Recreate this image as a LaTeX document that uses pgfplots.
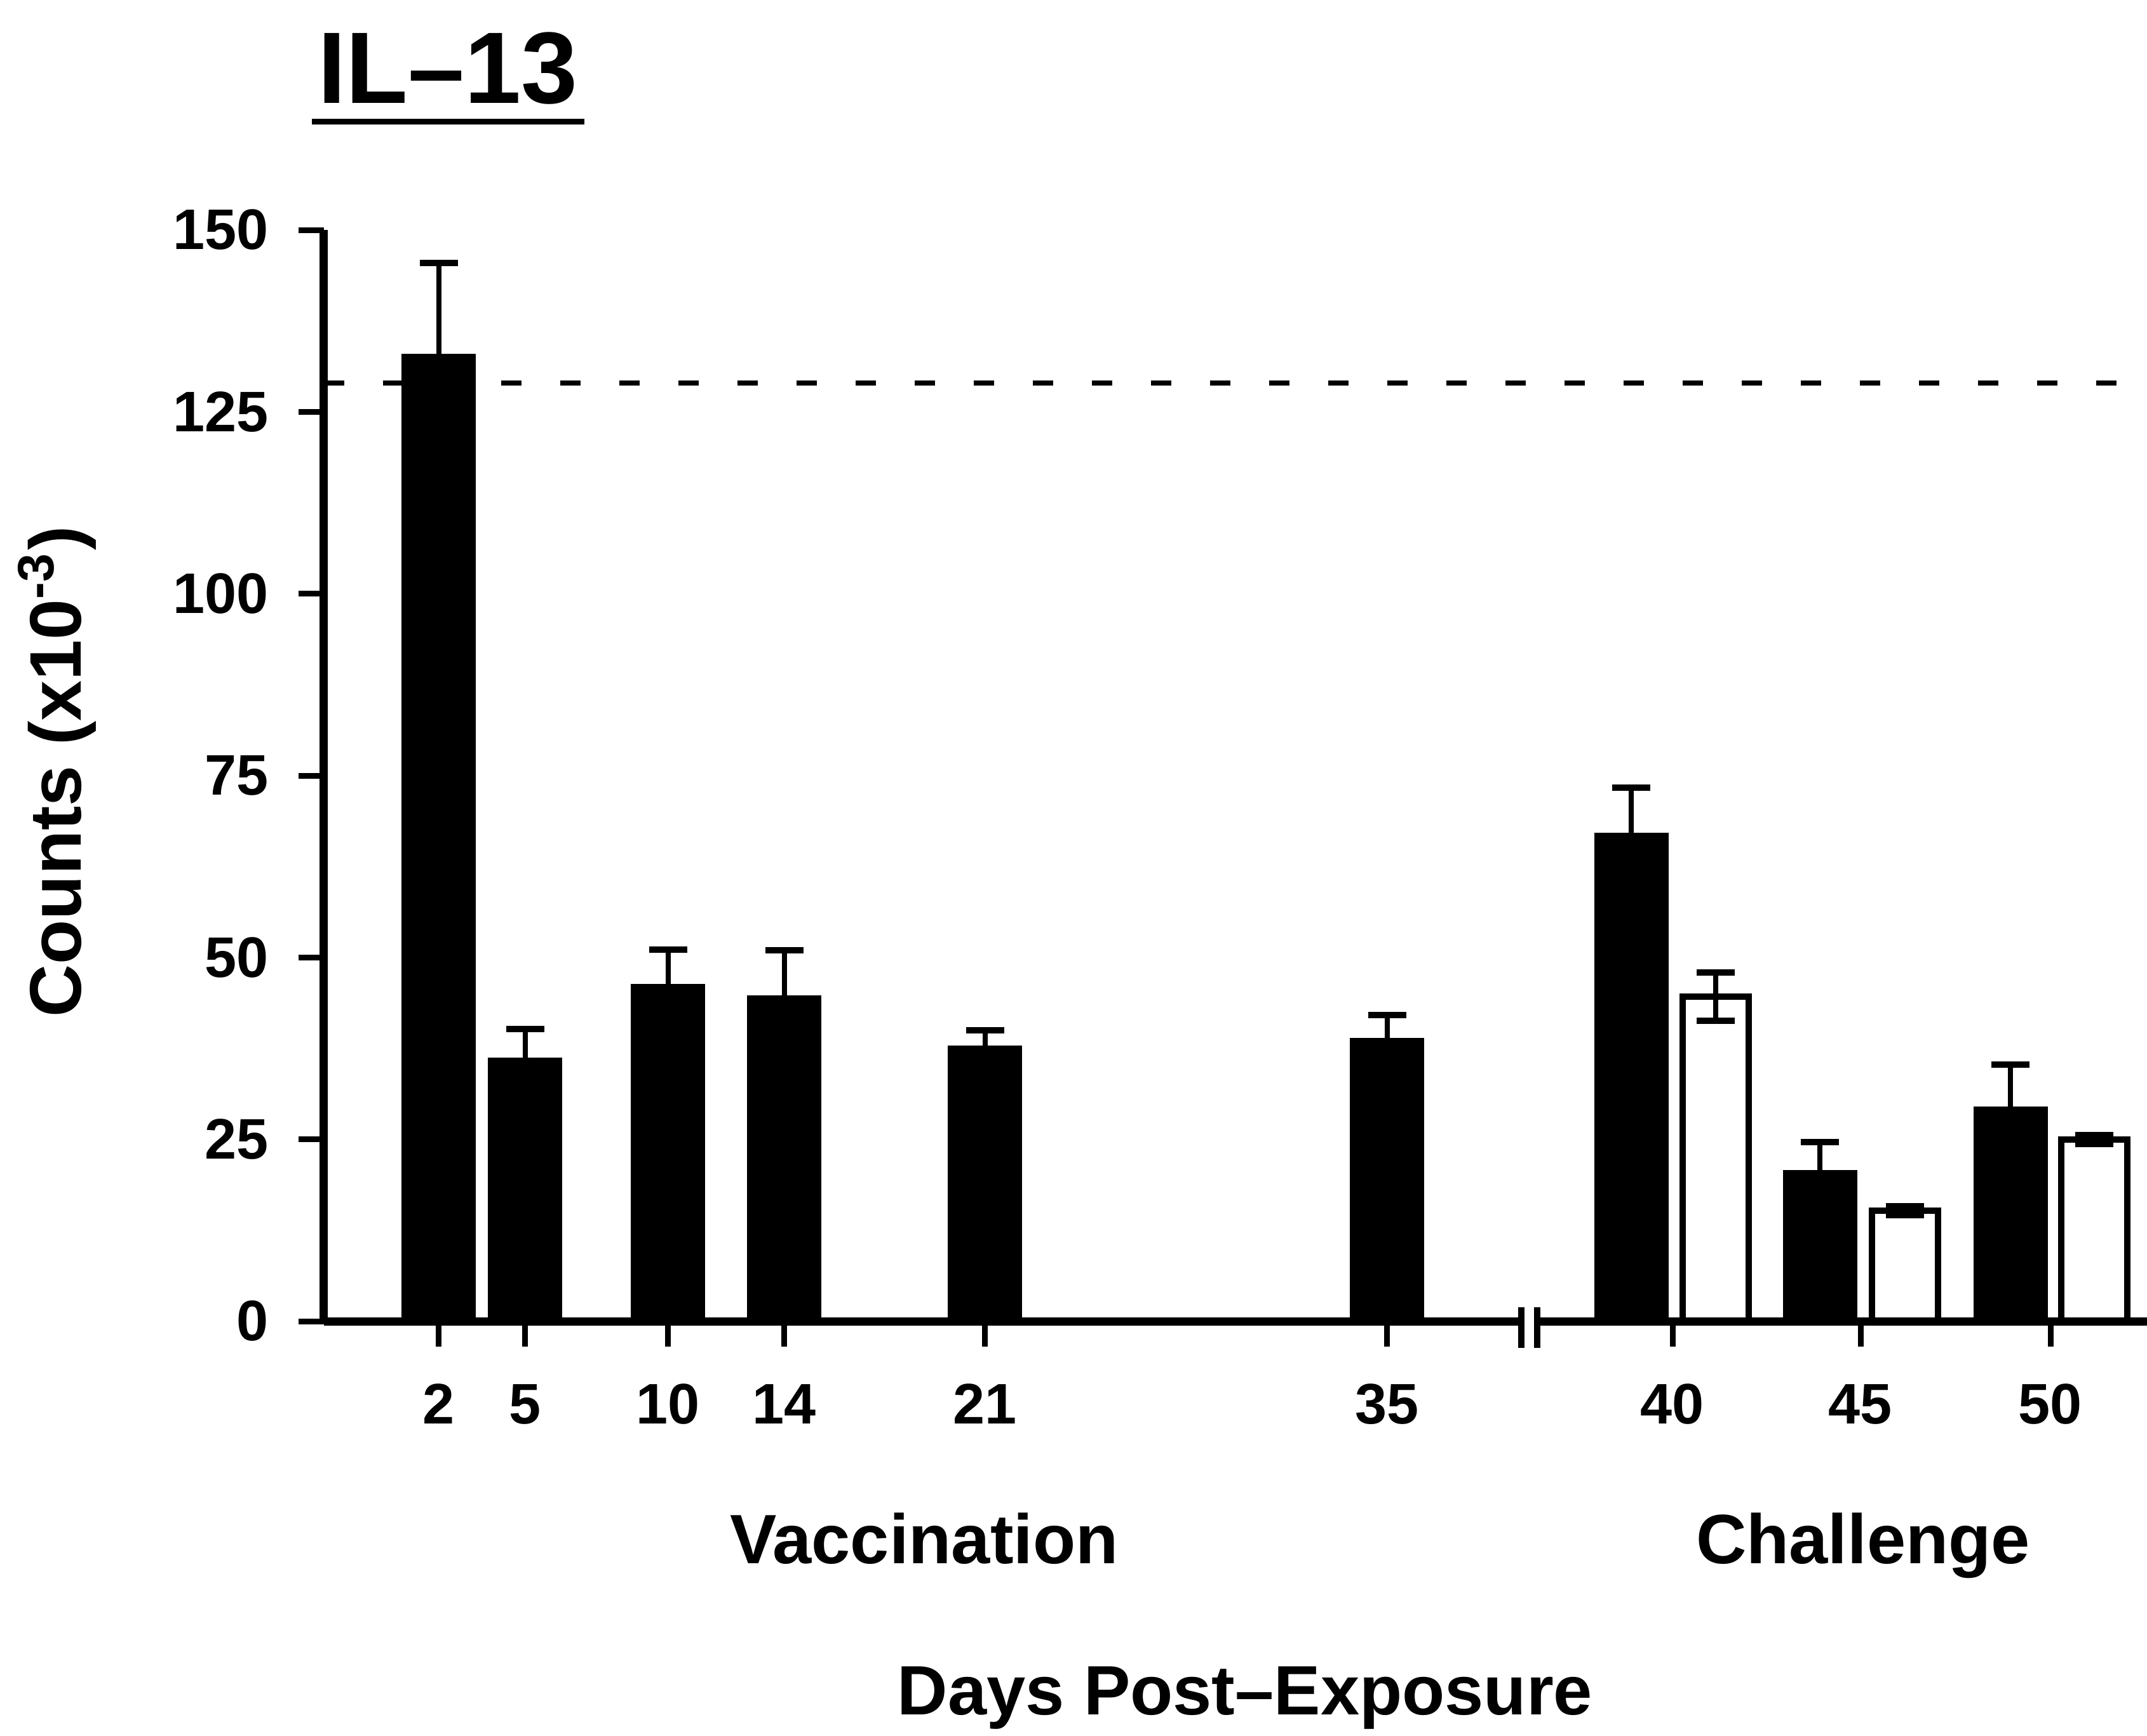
\documentclass[border=0pt]{standalone}
\usepackage{pgfplots}
\pgfplotsset{compat=1.18}
\usepackage{fontspec}
\setmainfont{Liberation Sans}
\begin{document}
\begin{tikzpicture}
\begin{axis}[
  scale only axis, width=287pt, height=171.8pt,
  xmin=510, xmax=3380, ymin=0, ymax=150,
  axis x line*=bottom, axis y line*=left,
  axis line style={line width=1.3pt},
  x axis line style={draw=none},
  xtick={691,827,1052,1235,1551,2184,2633,2929,3228},
  xticklabels={2,5,10,14,21,35,40,45,50},
  ytick={0,25,50,75,100,125,150},
  yticklabels={0,25,50,75,100,125,150},
  tick align=outside, major tick length=4pt,
  tick style={line width=0.9pt, black},
  xticklabel style={anchor=base, inner sep=0pt, yshift=-12.1pt},
  yticklabel style={anchor=east, inner sep=0pt, xshift=-4.5pt},
  every tick label/.append style={font=\fontsize{9}{11}\selectfont\bfseries},
  clip=false,
  error bars/error bar style={line width=0.8pt, black},
  error bars/error mark options={rotate=90, mark size=3pt, line width=1pt, black},
]
% reference (dashed) line
\addplot[black, line width=0.8pt, dash pattern=on 3.2pt off 6.1pt, forget plot]
  coordinates {(510,129) (3380,129)};
% vaccination + challenge (filled)
\addplot[ybar, bar width=113, bar shift=0pt, fill=black, draw=black,
  error bars/.cd, y dir=plus, y explicit]
  coordinates {
  (691,132.8) +- (0,12.7)
  (827,36.1) +- (0,4.1)
  (1052,46.2) +- (0,4.9)
  (1235,44.6) +- (0,6.4)
  (1551,37.7) +- (0,2.3)
  (2184,38.8) +- (0,3.3)
  (2568,67.0) +- (0,6.3)
  (2865,20.6) +- (0,4.0)
  (3165,29.3) +- (0,6.0)
  };
% challenge (open)
\addplot[ybar, bar width=104, bar shift=0pt, fill=white, draw=black, line width=1pt,
  error bars/.cd, y dir=both, y explicit]
  coordinates {
  (2701,44.6) +- (0,3.3)
  (2999,15.2) +- (0,0.6)
  (3297,25.0) +- (0,0.6)
  };
% x axis with break
\draw[line width=1.3pt] (axis cs:510,0) -- (axis cs:2400,0);
\draw[line width=1.3pt] (axis cs:2416,0) -- (axis cs:3380,0);
\draw[line width=1pt] (axis cs:2395,1.92) -- (axis cs:2395,-3.67);
\draw[line width=1pt] (axis cs:2420,1.92) -- (axis cs:2420,-3.67);
\coordinate (BL) at (axis cs:510,0);
\end{axis}
\node[anchor=base, font=\fontsize{11}{13}\selectfont\bfseries] at ([shift={(94.5pt,-38.2pt)}]BL) {Vaccination};
\node[anchor=base, font=\fontsize{11}{13}\selectfont\bfseries] at ([shift={(242.3pt,-38.2pt)}]BL) {Challenge};
\node[anchor=base, font=\fontsize{11}{13}\selectfont\bfseries] at ([shift={(145pt,-62pt)}]BL) {Days Post--Exposure};
\node[rotate=90, anchor=center, font=\fontsize{11.5}{13}\selectfont\bfseries] at ([shift={(-42pt,86.5pt)}]BL) {Counts (x10\textsuperscript{-3})};
\node[anchor=base, font=\fontsize{16}{19}\selectfont\bfseries] at ([shift={(19.5pt,191.7pt)}]BL) {IL--13};
\draw[line width=0.9pt] ([shift={(-1.9pt,188.8pt)}]BL) -- ([shift={(41pt,188.8pt)}]BL);
\pgfresetboundingbox
\path ([shift={(-51pt,-65.3pt)}]BL) rectangle ([shift={(287pt,208pt)}]BL);
\end{tikzpicture}
\end{document}
